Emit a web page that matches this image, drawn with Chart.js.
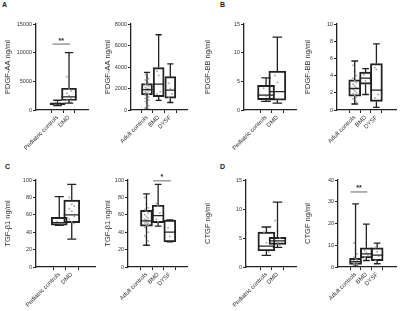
<!DOCTYPE html>
<html>
<head>
<meta charset="utf-8">
<script src="https://cdn.jsdelivr.net/npm/chart.js@4.4.0/dist/chart.umd.min.js"></script>
<style>
  body { margin: 0; background: #fff; }
  #wrap { position: relative; width: 400px; height: 311px; overflow: hidden; font-family: "Liberation Sans", Arial, sans-serif; }
  canvas { position: absolute; }
  .lbl { position: absolute; font-size: 7px; font-weight: bold; color: #222; }
</style>
</head>
<body>
<div id="wrap">
  <div class="lbl" style="left:2px;top:1px">A</div>
  <div class="lbl" style="left:220px;top:1px">B</div>
  <div class="lbl" style="left:5px;top:163px">C</div>
  <div class="lbl" style="left:220px;top:163px">D</div>
  <canvas id="aL" width="100" height="155" style="left:0;top:0"></canvas>
  <canvas id="aR" width="100" height="155" style="left:100px;top:0"></canvas>
  <canvas id="bL" width="100" height="155" style="left:200px;top:0"></canvas>
  <canvas id="bR" width="100" height="155" style="left:300px;top:0"></canvas>
  <canvas id="cL" width="100" height="156" style="left:0;top:155px"></canvas>
  <canvas id="cR" width="100" height="156" style="left:100px;top:155px"></canvas>
  <canvas id="dL" width="100" height="156" style="left:200px;top:155px"></canvas>
  <canvas id="dR" width="100" height="156" style="left:300px;top:155px"></canvas>
</div>
<script>
// DATA ======================================================================
const kidGroups = ['Pediatric controls', 'DMD'];
const adultGroups = ['Adult controls', 'BMD', 'DYSF'];

// box stats: [min, q1, median, q3, max]
// PDGF-AA
const aaPed = [750, 950, 1100, 1250, 1700];
const aaDmd = [1200, 1650, 2300, 3800, 10000];
const aaAdult = [50, 1400, 1900, 2450, 3500];
const aaBmd = [900, 1250, 2400, 3950, 7000];
const aaDysf = [700, 1100, 1850, 3100, 4300];
const aaPedPts = [900, 1000, 1050, 1100, 1150, 1200, 1250];
const aaDmdPts = [5800, 3600, 3300, 2900, 2500, 2000, 1700, 1500, 1300];
const aaAdultPts = [3300, 3100, 2900, 2800, 2600, 2500, 2400, 2300, 2200, 2100, 2000, 1950, 1900, 1850, 1800, 1700, 1600, 1500, 1400, 1300, 1200, 1100, 1000, 900, 800, 600, 400, 200, 50];
const aaBmdPts = [3600, 3200, 1700, 1500, 1000];
const aaDysfPts = [2500, 2000, 1500, 1200, 800];

// PDGF-BB
const bbPed = [1.5, 1.8, 2.6, 4.3, 5.6];
const bbDmd = [1.2, 1.7, 3.2, 6.8, 12.7];
const bbAdult = [0.7, 1.6, 2.5, 3.5, 5.7];
const bbBmd = [1.8, 3.0, 3.7, 4.4, 4.8];
const bbDysf = [0.3, 1.0, 2.3, 5.4, 7.7];
const bbPedPts = [3.8, 2.4, 1.6];
const bbDmdPts = [6.0, 4.8, 2.0];
const bbAdultPts = [5.2, 4.5, 4.0, 3.7, 3.4, 3.2, 3.0, 2.8, 2.6, 2.4, 2.2, 2.0, 1.9, 1.7, 1.5, 1.3, 1.1, 0.9, 0.7];
const bbBmdPts = [4.1, 3.4];
const bbDysfPts = [4.9, 4.7, 1.8, 1.4, 0.3];

// TGF-b1
const tgPed = [48, 48, 51, 57, 81];
const tgDmd = [32, 51, 60, 77, 95];
const tgAdult = [25, 47, 53, 65, 84];
const tgBmd = [47, 51, 59, 71, 95];
const tgDysf = [29, 29, 40, 54, 54];
const tgPedPts = [52, 50, 49];
const tgDmdPts = [80, 72, 70, 67, 64, 58, 55, 52, 50];
const tgAdultPts = [80, 72, 68, 66, 64, 62, 60, 58, 56, 55, 54, 53, 52, 51, 50, 49, 48, 47, 46, 44, 40, 36, 34, 30];
const tgBmdPts = [73, 70, 62, 55, 52];
const tgDysfPts = [45, 35];

// CTGF
const ctPed = [2.0, 2.8, 3.6, 6.0, 6.9];
const ctDmd = [3.4, 3.9, 4.5, 5.1, 11.2];
const ctAdult = [0.3, 1.2, 2.5, 4.0, 29];
const ctBmd = [3.0, 4.2, 6.0, 8.8, 19.7];
const ctDysf = [1.5, 2.9, 5.5, 8.8, 11];
const ctPedPts = [6.0, 4.2, 2.6];
const ctDmdPts = [8.0, 6.2, 5.0, 4.6, 4.2, 3.8];
const ctAdultPts = [11, 8, 6, 4.5, 3.8, 3.2, 2.8, 2.4, 2.0, 1.6, 1.2, 0.8, 0.5];
const ctBmdPts = [7.5, 6.5, 5.5, 4.5];
const ctDysfPts = [9, 7, 5, 3];

// significance bars: [from group, to group, y, label]
const sigA = [1, 2, 11500, '**'];
const sigC = [2, 3, 99, '*'];
const sigD = [1, 2, 34.5, '**'];

//END OF DATA ================================================================

const ink = '#222';
const textCol = '#333';
const fontFam = '"Liberation Sans", Arial, sans-serif';

// median line, whiskers and significance bars
const boxPlugin = {
  id: 'boxExtras',
  afterDatasetsDraw(chart, args, opts) {
    const ctx = chart.ctx;
    const x = chart.scales.x;
    const y = chart.scales.y;
    ctx.save();
    ctx.strokeStyle = ink;
    ctx.lineWidth = 1.3;
    opts.stats.forEach((s, i) => {
      const cx = x.getPixelForValue(i + 1);
      const half = opts.boxW / 2;
      const cap = opts.boxW * 0.28;
      ctx.beginPath();
      // median
      ctx.moveTo(cx - half, y.getPixelForValue(s[2]));
      ctx.lineTo(cx + half, y.getPixelForValue(s[2]));
      // whiskers
      ctx.moveTo(cx, y.getPixelForValue(s[3]));
      ctx.lineTo(cx, y.getPixelForValue(s[4]));
      ctx.moveTo(cx - cap, y.getPixelForValue(s[4]));
      ctx.lineTo(cx + cap, y.getPixelForValue(s[4]));
      ctx.moveTo(cx, y.getPixelForValue(s[1]));
      ctx.lineTo(cx, y.getPixelForValue(s[0]));
      ctx.moveTo(cx - cap, y.getPixelForValue(s[0]));
      ctx.lineTo(cx + cap, y.getPixelForValue(s[0]));
      ctx.stroke();
    });
    if (opts.sig) {
      const sg = opts.sig;
      const x1 = x.getPixelForValue(sg[0]) - 5;
      const x2 = x.getPixelForValue(sg[1]) + 1;
      const sy = y.getPixelForValue(sg[2]);
      ctx.strokeStyle = '#666';
      ctx.lineWidth = 1;
      ctx.beginPath();
      ctx.moveTo(x1, sy);
      ctx.lineTo(x2, sy);
      ctx.stroke();
      ctx.fillStyle = ink;
      ctx.font = 'bold 7px ' + fontFam;
      ctx.textAlign = 'center';
      ctx.textBaseline = 'bottom';
      ctx.fillText(sg[3], (x1 + x2) / 2, sy);
    }
    ctx.restore();
  }
};

function makePanel(id, p) {
  const canvas = document.getElementById(id);
  const H = canvas.height;
  const W = canvas.width;
  const boxData = p.stats.map((s, i) => ({ x: i + 1, y: [s[1], s[3]] }));
  const dotData = [];
  p.points.forEach((arr, i) => {
    arr.forEach((v, k) => {
      dotData.push({ x: i + 1 + ((k % 3) - 1) * p.boxW / 80, y: v });
    });
  });
  new Chart(canvas, {
    type: 'bar',
    data: {
      datasets: [
        {
          type: 'scatter',
          data: dotData,
          pointRadius: 1,
          pointBackgroundColor: 'rgba(160,160,160,0.85)',
          pointBorderWidth: 0,
          order: 1
        },
        {
          data: boxData,
          backgroundColor: 'rgba(255,255,255,0)',
          borderColor: ink,
          borderWidth: 1.3,
          borderSkipped: false,
          barThickness: p.boxW,
          order: 2
        }
      ]
    },
    options: {
      responsive: false,
      animation: false,
      layout: { padding: { top: p.top, right: W - p.axisEnd, left: 0, bottom: 0 } },
      plugins: {
        legend: { display: false },
        tooltip: { enabled: false },
        boxExtras: { stats: p.stats, boxW: p.boxW, sig: p.sig }
      },
      scales: {
        x: {
          type: 'linear',
          min: p.xMin,
          max: p.xMax,
          afterBuildTicks: (s) => { s.ticks = p.cats.map((c, i) => ({ value: i + 1 })); },
          afterFit: (s) => { s.height = H - p.zero; },
          ticks: {
            autoSkip: false,
            minRotation: 45,
            maxRotation: 45,
            padding: 1,
            color: textCol,
            font: { size: 6, family: fontFam },
            callback: (v) => p.cats[v - 1]
          },
          grid: { drawOnChartArea: false, drawTicks: true, tickLength: 3, color: ink, lineWidth: 1 },
          border: { color: ink, width: 1.3 }
        },
        y: {
          min: 0,
          max: p.yMax,
          afterFit: (s) => { s.width = p.axisX; },
          ticks: {
            stepSize: p.step,
            padding: 1,
            color: textCol,
            font: { size: 5.5, family: fontFam },
            callback: (v) => String(v)
          },
          grid: { drawOnChartArea: false, drawTicks: true, tickLength: 3, color: ink, lineWidth: 1 },
          border: { color: ink, width: 1.3 },
          title: {
            display: true,
            text: p.title,
            color: textCol,
            padding: { top: 3, bottom: 0 },
            font: { size: 7.5, family: fontFam }
          }
        }
      }
    },
    plugins: [boxPlugin]
  });
}

// PANELS ====================================================================
makePanel('aL', { cats: kidGroups, stats: [aaPed, aaDmd], points: [aaPedPts, aaDmdPts], title: 'PDGF-AA ng/ml',
  yMax: 15000, step: 5000, axisX: 36, top: 24, zero: 110, axisEnd: 88, xMin: 0.26, xMax: 2.52, boxW: 15, sig: sigA });
makePanel('aR', { cats: adultGroups, stats: [aaAdult, aaBmd, aaDysf], points: [aaAdultPts, aaBmdPts, aaDysfPts], title: 'PDGF-AA ng/ml',
  yMax: 8000, step: 2000, axisX: 31, top: 24, zero: 110, axisEnd: 87, xMin: 0.43, xMax: 3.63, boxW: 11 });
makePanel('bL', { cats: kidGroups, stats: [bbPed, bbDmd], points: [bbPedPts, bbDmdPts], title: 'PDGF-BB ng/ml',
  yMax: 15, step: 5, axisX: 44, top: 24, zero: 110, axisEnd: 100, xMin: 0.2, xMax: 2.5, boxW: 17 });
makePanel('bR', { cats: adultGroups, stats: [bbAdult, bbBmd, bbDysf], points: [bbAdultPts, bbBmdPts, bbDysfPts], title: 'PDGF-BB ng/ml',
  yMax: 10, step: 2, axisX: 37, top: 24, zero: 110, axisEnd: 97, xMin: 0.27, xMax: 3.9, boxW: 12 });
makePanel('cL', { cats: kidGroups, stats: [tgPed, tgDmd], points: [tgPedPts, tgDmdPts], title: 'TGF-β1 ng/ml',
  yMax: 100, step: 20, axisX: 36, top: 25, zero: 112, axisEnd: 95, xMin: 0.32, xMax: 2.68, boxW: 16 });
makePanel('cR', { cats: adultGroups, stats: [tgAdult, tgBmd, tgDysf], points: [tgAdultPts, tgBmdPts, tgDysfPts], title: 'TGF-β1 ng/ml',
  yMax: 100, step: 20, axisX: 28, top: 25, zero: 112, axisEnd: 87, xMin: 0.26, xMax: 3.63, boxW: 12, sig: sigC });
makePanel('dL', { cats: kidGroups, stats: [ctPed, ctDmd], points: [ctPedPts, ctDmdPts], title: 'CTGF ng/ml',
  yMax: 15, step: 5, axisX: 46, top: 25, zero: 112, axisEnd: 100, xMin: 0.29, xMax: 2.54, boxW: 17 });
makePanel('dR', { cats: adultGroups, stats: [ctAdult, ctBmd, ctDysf], points: [ctAdultPts, ctBmdPts, ctDysfPts], title: 'CTGF ng/ml',
  yMax: 40, step: 10, axisX: 38, top: 25, zero: 112, axisEnd: 97, xMin: 0.27, xMax: 3.85, boxW: 12, sig: sigD });
</script>
</body>
</html>
